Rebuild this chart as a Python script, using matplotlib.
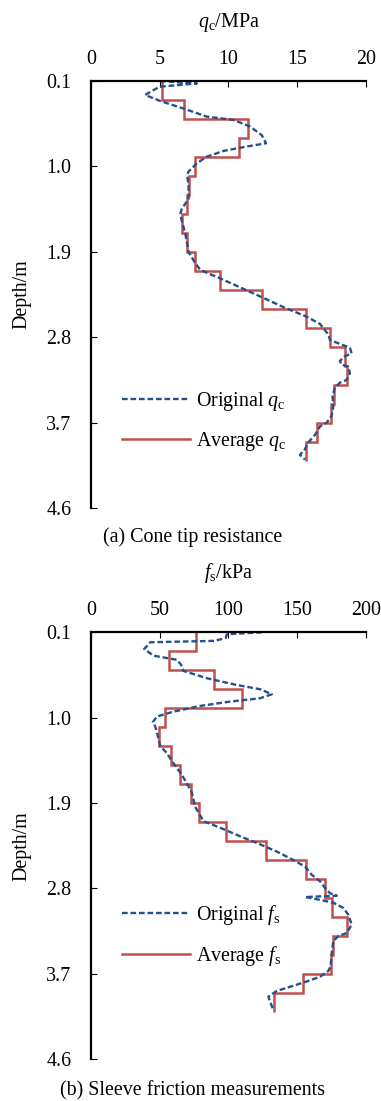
import numpy as np
import matplotlib
matplotlib.use("Agg")
import matplotlib.pyplot as plt

plt.rcParams['font.family'] = ['Liberation Serif', 'DejaVu Serif']
plt.rcParams['mathtext.fontset'] = 'custom'
plt.rcParams['mathtext.rm'] = 'Liberation Serif'
plt.rcParams['mathtext.it'] = 'Liberation Serif:italic'
plt.rcParams['font.size'] = 14.4

# averaged layers, 0.2 m thick from 0.1 m down to 4.1 m
layer_edges = np.round(np.arange(0.1, 4.11, 0.2), 2)
qc_avg = [5.2, 6.8, 11.45, 10.8, 7.55, 7.15, 6.97, 6.6, 6.97, 7.55,
          9.4, 12.42, 15.65, 17.4, 18.47, 18.6, 17.65, 17.48, 16.45, 15.67]
fs_avg = [76.5, 56.4, 89.7, 109.7, 54.0, 49.2, 58.1, 64.9, 72.6, 78.5,
          98.3, 127.4, 156.4, 170.5, 175.3, 186.0, 176.3, 174.4, 154.5, 133.2]

# measured cone tip resistance (MPa) vs depth (m)
qc_depth = [0.10, 0.125, 0.16, 0.195, 0.247, 0.31, 0.39, 0.475, 0.51, 0.58,
            0.67, 0.756, 0.79, 0.837, 0.897, 0.967, 1.055, 1.1, 1.2, 1.34,
            1.45, 1.5, 1.57, 1.7, 1.9, 2.0, 2.09, 2.18, 2.39, 2.49,
            2.58, 2.66, 2.77, 2.83, 2.87, 2.91, 2.97, 3.0, 3.05, 3.09,
            3.11, 3.18, 3.25, 3.28, 3.33, 3.42, 3.53, 3.63, 3.70, 3.74,
            3.83, 3.91, 3.98, 4.04, 4.09]
qc_orig = [5.03, 7.7, 5.0, 4.55, 3.94, 5.03, 6.73, 8.42, 10.36, 11.57,
           12.42, 12.73, 11.33, 9.63, 8.42, 7.7, 7.09, 7.0, 7.1, 7.1,
           6.6, 6.5, 6.6, 6.85, 7.1, 7.5, 7.94, 9.4, 12.6, 14.1,
           15.64, 16.65, 17.26, 17.38, 18.1, 18.83, 18.95, 18.47, 18.1, 18.23,
           18.71, 18.83, 18.59, 18.1, 17.74, 17.57, 17.62, 17.5, 17.14, 16.65,
           16.29, 15.8, 15.56, 15.2, 15.56]

# measured sleeve friction (kPa) vs depth (m)
fs_depth = [0.10, 0.12, 0.16, 0.19, 0.205, 0.276, 0.346, 0.39, 0.444, 0.507,
            0.584, 0.655, 0.70, 0.753, 0.795, 0.83, 0.876, 0.936, 0.988, 1.047,
            1.09, 1.16, 1.3, 1.37, 1.48, 1.58, 1.69, 1.79, 1.94, 2.09,
            2.16, 2.25, 2.32, 2.41, 2.5, 2.57, 2.655, 2.725, 2.795, 2.85,
            2.876, 2.89, 2.92, 2.95, 3.005, 3.076, 3.18, 3.27, 3.30, 3.357,
            3.48, 3.62, 3.67, 3.73, 3.78, 3.83, 3.88, 3.94, 3.99, 4.04, 4.075]
fs_orig = [124.2, 98.8, 98.0, 90.0, 43.1, 38.7, 45.5, 62.5, 65.6, 67.3,
           84.3, 106.0, 123.0, 131.5, 123.0, 101.2, 79.4, 60.0, 47.9, 45.0,
           46.7, 48.0, 50.4, 55.0, 60.0, 65.0, 69.7, 73.4, 75.8, 81.8,
           94.0, 108.5, 120.6, 135.0, 147.2, 155.7, 160.5, 166.6, 170.2, 173.8,
           178.7, 155.7, 166.6, 176.2, 183.5, 187.1, 189.6, 186.0, 179.9, 176.2,
           175.1, 174.3, 172.6, 166.6, 156.9, 146.0, 135.1, 129.0, 130.2, 131.5, 132.6]

depth_ticks = [0.1, 1.0, 1.9, 2.8, 3.7, 4.6]

blue = '#24508c'
red = '#c0504d'

fig = plt.figure(figsize=(3.81, 11.01), dpi=100)
ax_a = fig.add_axes([0.2388, 0.5386, 0.7218, 0.3878])
ax_b = fig.add_axes([0.2388, 0.0379, 0.7218, 0.3878])


def style_axis(ax, xmax, xstep, xlabel):
    ax.set_xlim(0, xmax)
    ax.set_ylim(4.6, 0.1)
    ax.set_xticks(np.arange(0, xmax + 1e-9, xstep))
    ax.set_yticks(depth_ticks)
    ax.set_yticklabels([f"{d:.1f}" for d in depth_ticks])
    ax.xaxis.tick_top()
    ax.xaxis.set_label_position('top')
    ax.set_xlabel(xlabel, labelpad=17)
    ax.set_ylabel('Depth/m', labelpad=11)
    for side in ['right', 'bottom']:
        ax.spines[side].set_visible(False)
    for side in ['left', 'top']:
        ax.spines[side].set_linewidth(1.6)
    ax.tick_params(axis='x', direction='in', length=4, width=0.8, pad=8.5)
    ax.tick_params(axis='y', direction='in', length=4, width=0.8, pad=14)


ax_a.plot(qc_orig, qc_depth, color=blue, lw=1.7, dashes=(2.4, 1.2),
          label='Original $q_\\mathrm{c}$')
ax_a.stairs(qc_avg, layer_edges, orientation='horizontal', baseline=None,
            color=red, lw=1.8, label='Average $q_\\mathrm{c}$')
style_axis(ax_a, 20, 5, '$q_\\mathrm{c}$/MPa')
ax_a.legend(frameon=False, loc='center left', bbox_to_anchor=(0.047, 0.203),
            handlelength=3.4, handletextpad=0.3, labelspacing=0.85)

ax_b.plot(fs_orig, fs_depth, color=blue, lw=1.7, dashes=(2.4, 1.2),
          label='Original $f_\\mathrm{s}$')
ax_b.stairs(fs_avg, layer_edges, orientation='horizontal', baseline=None,
            color=red, lw=1.8, label='Average $f_\\mathrm{s}$')
style_axis(ax_b, 200, 50, '$f_\\mathrm{s}$/kPa')
ax_b.legend(frameon=False, loc='center left', bbox_to_anchor=(0.047, 0.29),
            handlelength=3.4, handletextpad=0.3, labelspacing=0.85)

fig.text(0.505, 1 - 537 / 1101, '(a) Cone tip resistance', ha='center', va='center')
fig.text(0.505, 1 - 1091 / 1101, '(b) Sleeve friction measurements', ha='center', va='center')

fig.savefig('out.png', dpi=100)
